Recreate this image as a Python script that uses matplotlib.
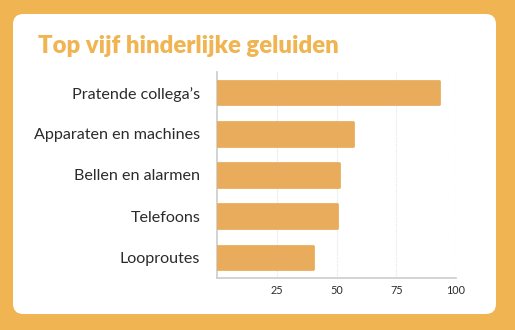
import matplotlib.pyplot as plt
from matplotlib.patches import FancyBboxPatch

categories = ["Pratende collega’s", "Apparaten en machines", "Bellen en alarmen",
              "Telefoons", "Looproutes"]
values = [93, 57, 51, 50, 40]
xticks = [25, 50, 75, 100]

orange_bg = "#F0B552"
bar_color = "#E8AC5C"
text_color = "#2b2b2b"

fig = plt.figure(figsize=(5.15, 3.30), dpi=100, facecolor=orange_bg)

# white card
card = FancyBboxPatch((13 / 515, 16 / 330), 483 / 515, 300 / 330,
                      boxstyle="round,pad=0,rounding_size=0.02",
                      transform=fig.transFigure, facecolor="white",
                      edgecolor="none", mutation_aspect=515 / 330, zorder=-1)
fig.patches.append(card)

fig.text(38 / 515, 277 / 330, "Top vijf hinderlijke geluiden", color=orange_bg,
         fontsize=17.2, fontweight="heavy", family="Lato", va="baseline")

ax = fig.add_axes([217 / 515, 52 / 330, 239 / 515, 206 / 330], zorder=1)
ax.set_facecolor("none")

ypos = list(range(len(categories)))
ax.barh(ypos, values, height=0.57, color=bar_color, edgecolor=bar_color,
        linewidth=2, joinstyle="round", zorder=3)

ax.set_xlim(0, 100)
ax.set_ylim(len(categories) - 0.5, -0.5)
ax.set_yticks(ypos)
ax.set_yticklabels(categories, fontsize=11.6, color=text_color, family="Lato")
ax.set_xticks(xticks)
ax.set_xticklabels([str(t) for t in xticks], fontsize=7.8, color=text_color,
                   family="Lato")
ax.tick_params(axis="y", length=0, pad=12)
ax.tick_params(axis="x", length=0, pad=5)
ax.grid(axis="x", color="#e6e6e6", linestyle=(0, (1, 1)), linewidth=0.8, zorder=0)

for s in ["top", "right"]:
    ax.spines[s].set_visible(False)
for s in ["left", "bottom"]:
    ax.spines[s].set_color("#cccccc")
    ax.spines[s].set_linewidth(1.2)

fig.savefig("out.png", dpi=100, facecolor=orange_bg)
